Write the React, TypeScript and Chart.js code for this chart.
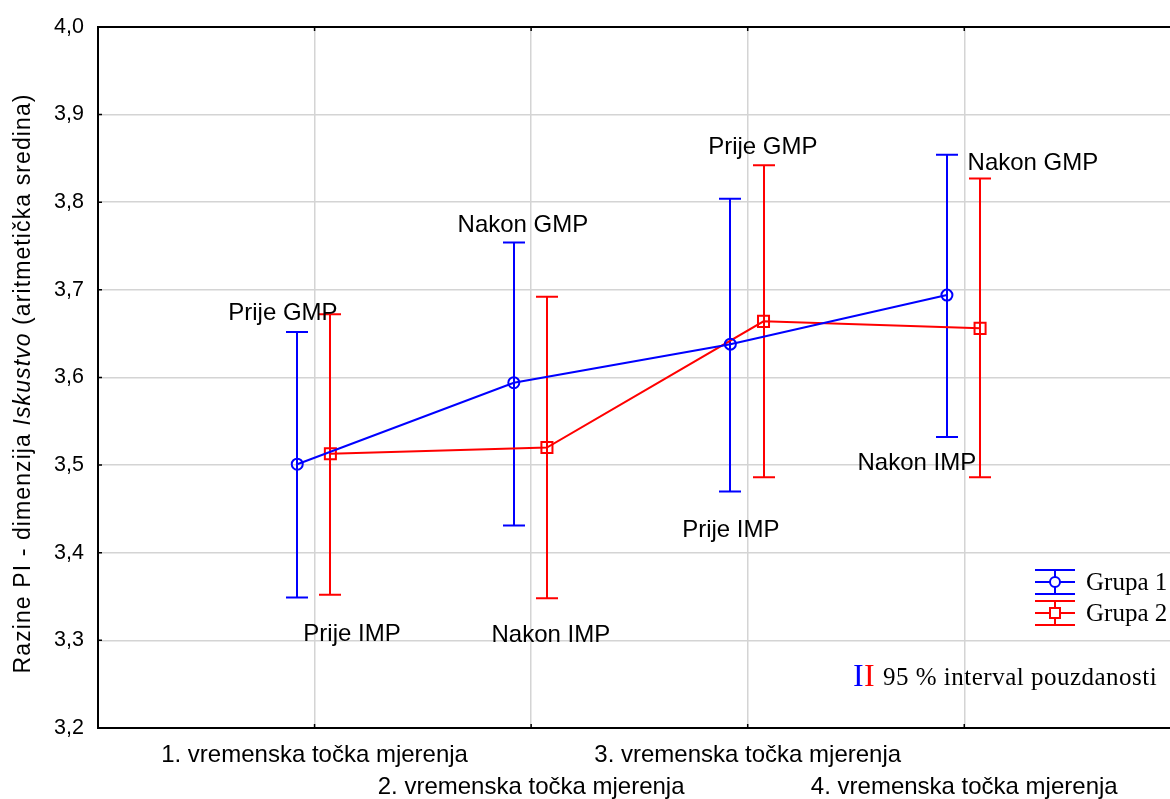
import React, { useEffect, useRef } from "react";
import { Chart, registerables } from "chart.js";

Chart.register(...registerables);

// ---------- data ----------
const categories = [
  "1. vremenska točka mjerenja",
  "2. vremenska točka mjerenja",
  "3. vremenska točka mjerenja",
  "4. vremenska točka mjerenja",
];
const categoryPositions = [1, 2, 3, 4];

const seriesNames = ["Grupa 1", "Grupa 2"];
const group1Mean = [3.501, 3.594, 3.638, 3.694];
const group1Lower = [3.349, 3.431, 3.47, 3.532];
const group1Upper = [3.652, 3.754, 3.804, 3.854];
const group2Mean = [3.513, 3.52, 3.664, 3.656];
const group2Lower = [3.352, 3.348, 3.486, 3.486];
const group2Upper = [3.672, 3.692, 3.842, 3.827];
const groupOffsets = [-0.08, 0.073];

const yTicks = [3.2, 3.3, 3.4, 3.5, 3.6, 3.7, 3.8, 3.9, 4.0];

const annotationTexts = [
  "Prije GMP",
  "Nakon GMP",
  "Prije GMP",
  "Nakon GMP",
  "Prije IMP",
  "Nakon IMP",
  "Prije IMP",
  "Nakon IMP",
];
const annotationX = [0.854, 1.962, 3.07, 4.317, 1.173, 2.091, 2.922, 3.781];
const annotationY = [3.673, 3.774, 3.863, 3.844, 3.307, 3.306, 3.425, 3.502];

const yTitleBefore = "Razine PI - dimenzija ";
const yTitleItalic = "Iskustvo";
const yTitleAfter = " (aritmetička sredina)";
const intervalLegend = "95 % interval pouzdanosti";

// ---------- styles ----------
const BLUE = "#0000ff";
const RED = "#ff0000";
const GRID = "#d4d4d4";
const SANS = "'Liberation Sans', Arial, sans-serif";
const SERIF = "'Liberation Serif', 'Times New Roman', serif";

const means = [group1Mean, group2Mean];
const lowers = [group1Lower, group2Lower];
const uppers = [group1Upper, group2Upper];
const colors = [BLUE, RED];
const pointStyles = ["circle", "rect"];

const customPlugin = {
  id: "customDraw",
  beforeDatasetsDraw(chart: any) {
    const ctx = chart.ctx;
    const xs = chart.scales.x;
    const ys = chart.scales.y;
    ctx.save();
    ctx.lineWidth = 2;
    for (let d = 0; d < 2; d++) {
      ctx.strokeStyle = colors[d];
      for (let i = 0; i < categoryPositions.length; i++) {
        const x = Math.round(xs.getPixelForValue(categoryPositions[i] + groupOffsets[d]));
        const yT = ys.getPixelForValue(uppers[d][i]);
        const yB = ys.getPixelForValue(lowers[d][i]);
        ctx.beginPath();
        ctx.moveTo(x, yT);
        ctx.lineTo(x, yB);
        ctx.moveTo(x - 11, yT);
        ctx.lineTo(x + 11, yT);
        ctx.moveTo(x - 11, yB);
        ctx.lineTo(x + 11, yB);
        ctx.stroke();
      }
    }
    ctx.restore();
  },
  afterDraw(chart: any) {
    const ctx = chart.ctx;
    const xs = chart.scales.x;
    const ys = chart.scales.y;
    const area = chart.chartArea;
    ctx.save();
    ctx.letterSpacing = "0px";

    // top border and inner tick marks
    ctx.strokeStyle = "#000";
    ctx.lineWidth = 2;
    ctx.beginPath();
    ctx.moveTo(area.left - 1, area.top);
    ctx.lineTo(area.right, area.top);
    ctx.stroke();
    ctx.lineWidth = 1.5;
    ctx.beginPath();
    for (const v of categoryPositions) {
      const x = xs.getPixelForValue(v);
      ctx.moveTo(x, area.top);
      ctx.lineTo(x, area.top + 4);
      ctx.moveTo(x, area.bottom);
      ctx.lineTo(x, area.bottom - 4);
    }
    for (const v of yTicks) {
      const y = ys.getPixelForValue(v);
      ctx.moveTo(area.left, y);
      ctx.lineTo(area.left + 4, y);
    }
    ctx.stroke();

    // annotation labels
    ctx.fillStyle = "#000";
    ctx.font = `24px ${SANS}`;
    ctx.textAlign = "center";
    ctx.textBaseline = "middle";
    for (let i = 0; i < annotationTexts.length; i++) {
      ctx.fillText(
        annotationTexts[i],
        xs.getPixelForValue(annotationX[i]),
        ys.getPixelForValue(annotationY[i])
      );
    }

    // y axis title with italic part
    ctx.save();
    const cy = (area.top + area.bottom) / 2 + 6;
    ctx.translate(24, cy);
    ctx.rotate(-Math.PI / 2);
    ctx.letterSpacing = "1.1px";
    ctx.textAlign = "left";
    ctx.textBaseline = "middle";
    const normalFont = `23px ${SANS}`;
    const italicFont = `italic 23px ${SANS}`;
    ctx.font = normalFont;
    const w1 = ctx.measureText(yTitleBefore).width;
    const w3 = ctx.measureText(yTitleAfter).width;
    ctx.font = italicFont;
    const w2 = ctx.measureText(yTitleItalic).width;
    let x0 = -(w1 + w2 + w3) / 2;
    ctx.font = normalFont;
    ctx.fillText(yTitleBefore, x0, 0);
    x0 += w1;
    ctx.font = italicFont;
    ctx.fillText(yTitleItalic, x0, 0);
    x0 += w2;
    ctx.font = normalFont;
    ctx.fillText(yTitleAfter, x0, 0);
    ctx.restore();

    // legend
    const lx = area.right - 115;
    const rows = [area.bottom - 146, area.bottom - 115];
    for (let d = 0; d < 2; d++) {
      const y = rows[d];
      ctx.strokeStyle = colors[d];
      ctx.lineWidth = 2;
      ctx.beginPath();
      ctx.moveTo(lx - 20, y);
      ctx.lineTo(lx + 20, y);
      ctx.moveTo(lx - 20, y - 12);
      ctx.lineTo(lx + 20, y - 12);
      ctx.moveTo(lx - 20, y + 12);
      ctx.lineTo(lx + 20, y + 12);
      ctx.moveTo(lx, y - 12);
      ctx.lineTo(lx, y + 12);
      ctx.stroke();
      ctx.fillStyle = "#fff";
      ctx.beginPath();
      if (d === 0) {
        ctx.arc(lx, y, 5, 0, Math.PI * 2);
      } else {
        ctx.rect(lx - 5, y - 5, 10, 10);
      }
      ctx.fill();
      ctx.stroke();
      ctx.fillStyle = "#000";
      ctx.font = `25px ${SERIF}`;
      ctx.textAlign = "left";
      ctx.textBaseline = "middle";
      ctx.fillText(seriesNames[d], lx + 31, y + 1);
    }

    // confidence interval note
    const iy = area.bottom - 50;
    ctx.font = `32px ${SERIF}`;
    ctx.textBaseline = "middle";
    ctx.textAlign = "left";
    ctx.fillStyle = BLUE;
    ctx.fillText("I", area.right - 317, iy);
    ctx.fillStyle = RED;
    ctx.fillText("I", area.right - 306, iy);
    ctx.fillStyle = "#000";
    ctx.font = `25px ${SERIF}`;
    ctx.letterSpacing = "0.5px";
    ctx.fillText(intervalLegend, area.right - 287, iy);

    ctx.restore();
  },
};

export default function App() {
  const canvasRef = useRef<HTMLCanvasElement | null>(null);

  useEffect(() => {
    const canvas = canvasRef.current;
    if (!canvas) return;
    const datasets = [0, 1].map((d) => ({
      label: seriesNames[d],
      data: categoryPositions.map((c, i) => ({ x: c + groupOffsets[d], y: means[d][i] })),
      borderColor: colors[d],
      backgroundColor: "rgba(255,255,255,0)",
      borderWidth: 2,
      pointStyle: pointStyles[d],
      pointRadius: d === 0 ? 5.5 : 7.8,
      pointBorderWidth: 2,
      pointBorderColor: colors[d],
      pointBackgroundColor: "rgba(255,255,255,0)",
      fill: false,
      tension: 0,
    }));

    const chart = new Chart(canvas, {
      type: "line",
      data: { datasets },
      options: {
        responsive: false,
        animation: false,
        devicePixelRatio: 1,
        layout: { autoPadding: false, padding: { top: 25, right: 0, left: 0, bottom: 0 } },
        plugins: {
          legend: { display: false },
          tooltip: { enabled: false },
        },
        scales: {
          x: {
            type: "linear",
            min: 0,
            max: 4.95,
            afterBuildTicks: (s: any) => {
              s.ticks = categoryPositions.map((v) => ({ value: v }));
            },
            afterFit: (s: any) => {
              s.height = 71;
              s.paddingLeft = 0;
              s.paddingRight = 0;
            },
            ticks: {
              autoSkip: false,
              maxRotation: 0,
              minRotation: 0,
              padding: 11,
              color: "#000",
              font: { family: SANS, size: 24, lineHeight: 1.35 },
              callback: (_v: any, index: number) =>
                index % 2 === 0 ? [categories[index], ""] : ["", categories[index]],
            },
            grid: { color: GRID, lineWidth: 1.5, drawTicks: false },
            border: { color: "#000", width: 2 },
          },
          y: {
            type: "linear",
            min: 3.2,
            max: 4.0,
            afterBuildTicks: (s: any) => {
              s.ticks = yTicks.map((v) => ({ value: v }));
            },
            afterFit: (s: any) => {
              s.width = 98;
            },
            ticks: {
              padding: 14,
              color: "#000",
              font: { family: SANS, size: 21.5 },
              callback: (v: any) => Number(v).toFixed(1).replace(".", ","),
            },
            grid: { color: GRID, lineWidth: 1.5, drawTicks: false },
            border: { color: "#000", width: 2 },
          },
        },
      },
      plugins: [customPlugin],
    });
    return () => chart.destroy();
  }, []);

  return (
    <div style={{ position: "fixed", left: 0, top: 0, width: 1170, height: 799, background: "#fff" }}>
      <canvas ref={canvasRef} width={1170} height={799} style={{ display: "block" }} />
    </div>
  );
}
